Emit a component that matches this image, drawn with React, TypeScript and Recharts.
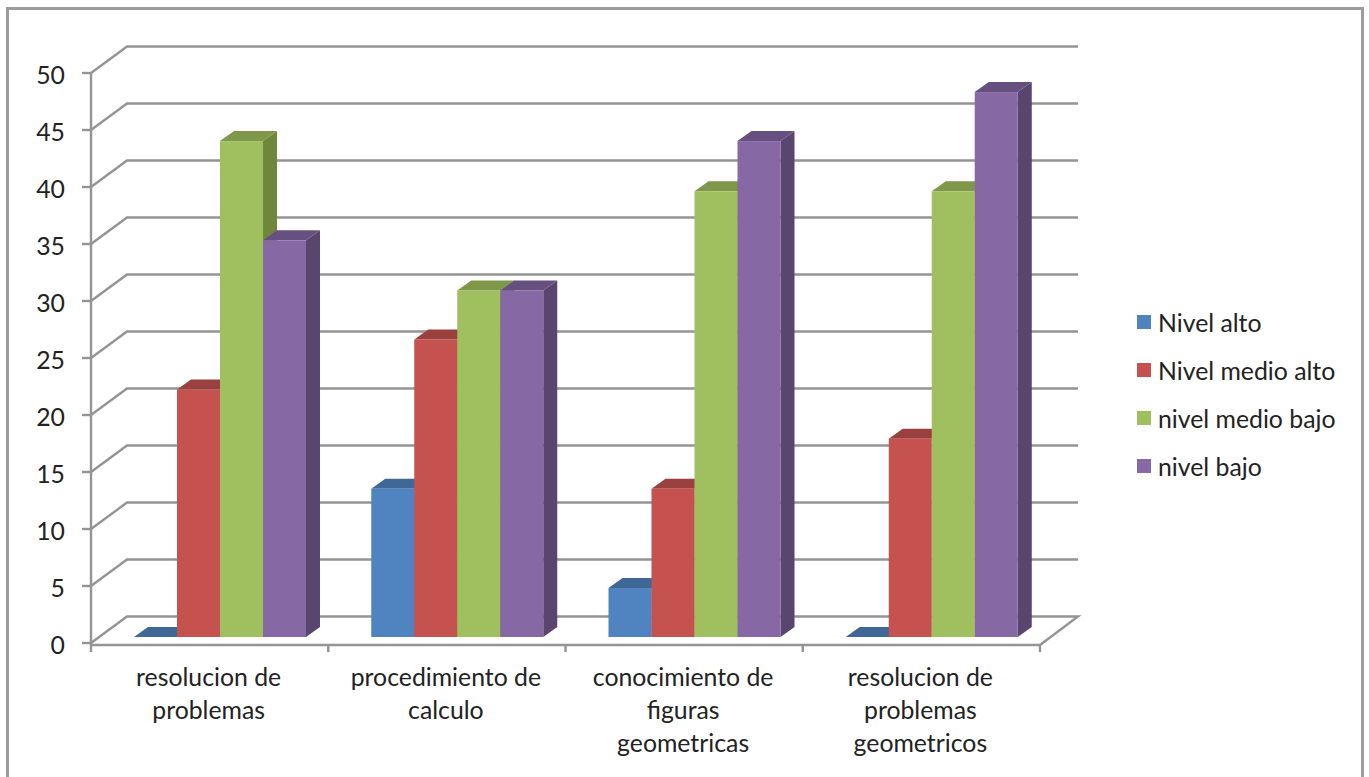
import { BarChart, Bar, XAxis, YAxis, CartesianGrid, Legend } from 'recharts';

const CATEGORIES = [
  'resolucion de\nproblemas',
  'procedimiento de\ncalculo',
  'conocimiento de\nfiguras\ngeometricas',
  'resolucion de\nproblemas\ngeometricos',
];

const SERIES_NAMES = ['Nivel alto', 'Nivel medio alto', 'nivel medio bajo', 'nivel bajo'];
const NIVEL_ALTO = [0, 13, 4.3, 0];
const NIVEL_MEDIO_ALTO = [21.7, 26.1, 13, 17.4];
const NIVEL_MEDIO_BAJO = [43.5, 30.4, 39.1, 39.1];
const NIVEL_BAJO = [34.8, 30.4, 43.5, 47.8];

const Y_TICKS = [0, 5, 10, 15, 20, 25, 30, 35, 40, 45, 50];
const EDGE_TICKS = [0, 1, 2, 3, 4];

const FRONT_COLORS = ['#5084c1', '#c5524f', '#a0bf5e', '#8668a5'];
const TOP_COLORS = ['#3f6896', '#9a403e', '#7e9749', '#66507f'];
const SIDE_COLORS = ['#3b6189', '#8c3a38', '#6e873d', '#5a456e'];

const AXIS_COLOR = '#949494';
const TEXT_COLOR = '#222222';
const FONT = 'Lato, Carlito, sans-serif';
const FONT_SIZE = 24.8;

const rows = CATEGORIES.map((name, i) => ({
  name,
  alto: NIVEL_ALTO[i],
  medioAlto: NIVEL_MEDIO_ALTO[i],
  medioBajo: NIVEL_MEDIO_BAJO[i],
  bajo: NIVEL_BAJO[i],
}));

const SERIES_KEYS = ['alto', 'medioAlto', 'medioBajo', 'bajo'];

// depth of the fake 3D bars, and where they stand on the floor
const BAR_DX = 14;
const BAR_DY = 10;
const BAR_SHIFT_X = 11;
const BAR_SHIFT_Y = -6;

function makeBarShape(seriesIndex: number) {
  return function BarShape(props: any) {
    const x = props.x + BAR_SHIFT_X;
    const y = props.y + BAR_SHIFT_Y;
    const w = props.width;
    const h = props.height;
    return (
      <g>
        <path
          d={`M${x + w},${y} L${x + w + BAR_DX},${y - BAR_DY} L${x + w + BAR_DX},${y + h - BAR_DY} L${x + w},${y + h} Z`}
          fill={SIDE_COLORS[seriesIndex]}
        />
        <path
          d={`M${x},${y} L${x + BAR_DX},${y - BAR_DY} L${x + w + BAR_DX},${y - BAR_DY} L${x + w},${y} Z`}
          fill={TOP_COLORS[seriesIndex]}
        />
        <rect x={x} y={y} width={w} height={h} fill={FRONT_COLORS[seriesIndex]} />
      </g>
    );
  };
}

// back wall line, joined to the y axis tick by a slanted piece
function WallLine(props: any) {
  const { x1, x2, y1, key } = props;
  const backY = y1 - 26.5;
  const isFloor = y1 > 640;
  const d = isFloor
    ? `M${x1},${y1} L${x1 + 36},${backY} L${x2 + 38},${backY} L${x2},${y1 + 2}`
    : `M${x1},${y1} L${x1 + 36},${backY} L${x2 + 38},${backY}`;
  return <path key={key} d={d} fill="none" stroke={AXIS_COLOR} strokeWidth={2.4} />;
}

function CategoryTick(props: any) {
  const { x, y, payload } = props;
  const lines = String(payload.value).split('\n');
  return (
    <text x={x - 1} y={y} textAnchor="middle" fontFamily={FONT} fontSize={FONT_SIZE} fill={TEXT_COLOR}>
      {lines.map((line, i) => (
        <tspan key={i} x={x - 1} y={y + 33 * i + 32}>
          {line}
        </tspan>
      ))}
    </text>
  );
}

function NoLabel() {
  return <g />;
}

function LegendBox() {
  return (
    <div style={{ fontFamily: FONT, fontSize: FONT_SIZE, color: TEXT_COLOR }}>
      {SERIES_NAMES.map((name, i) => (
        <div key={name} style={{ height: 48, display: 'flex', alignItems: 'center' }}>
          <span style={{ width: 14, height: 14, marginRight: 7, background: FRONT_COLORS[i] }} />
          <span>{name}</span>
        </div>
      ))}
    </div>
  );
}

export default function App() {
  return (
    <div style={{ position: 'fixed', inset: 0, background: '#fff', overflow: 'hidden' }}>
      <div
        style={{
          position: 'absolute',
          left: 6,
          top: 7,
          width: 1358,
          height: 800,
          boxSizing: 'border-box',
          border: '3px solid #9c9c9c',
        }}
      />
      <div style={{ position: 'absolute', left: 0, top: 0 }}>
        <BarChart
          width={1369}
          height={777}
          data={rows}
          margin={{ top: 73, right: 329, bottom: 72, left: 41 }}
          barGap={0}
          barCategoryGap={32}
        >
          <CartesianGrid vertical={false} horizontal={WallLine} xAxisId="labels" syncWithTicks />
          {/* number axis only for the tick marks between the category bands */}
          <XAxis
            xAxisId="edges"
            type="number"
            dataKey={() => 0}
            domain={[0, 4]}
            ticks={EDGE_TICKS}
            interval={0}
            tick={NoLabel}
            height={1}
            tickSize={7}
            tickLine={{ stroke: AXIS_COLOR, strokeWidth: 2.4 }}
            axisLine={{ stroke: AXIS_COLOR, strokeWidth: 2.4 }}
          />
          <XAxis
            xAxisId="labels"
            dataKey="name"
            height={59}
            interval={0}
            axisLine={false}
            tickLine={false}
            tick={CategoryTick}
          />
          <YAxis
            width={50}
            domain={[-0.175, 50]}
            ticks={Y_TICKS}
            interval={0}
            tickSize={9}
            tickMargin={17}
            allowDataOverflow
            tick={{ fontFamily: FONT, fontSize: FONT_SIZE, fill: TEXT_COLOR, dy: 2 }}
            tickLine={{ stroke: AXIS_COLOR, strokeWidth: 2.4 }}
            axisLine={{ stroke: AXIS_COLOR, strokeWidth: 2.4 }}
          />
          <Legend
            layout="vertical"
            align="center"
            verticalAlign="middle"
            content={LegendBox}
            wrapperStyle={{ left: 1137, top: 298, width: 225 }}
          />
          {SERIES_KEYS.map((key, i) => (
            <Bar
              key={key}
              xAxisId="labels"
              dataKey={key}
              name={SERIES_NAMES[i]}
              fill={FRONT_COLORS[i]}
              isAnimationActive={false}
              shape={makeBarShape(i)}
            />
          ))}
        </BarChart>
      </div>
    </div>
  );
}
